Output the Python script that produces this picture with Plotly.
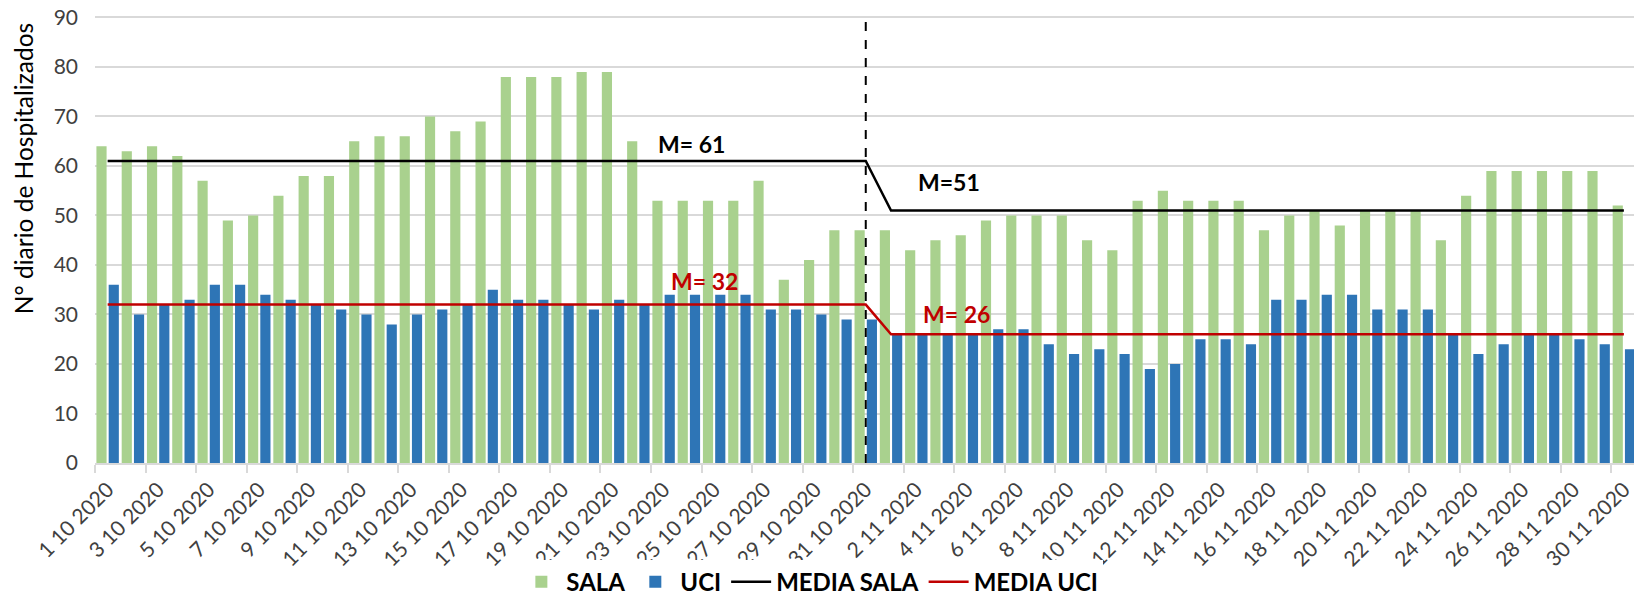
import plotly.graph_objects as go

# Días de octubre y noviembre 2020 (etiquetas del eje de categorías)
fechas = [f"{d} 10 2020" for d in range(1, 32)] + [f"{d} 11 2020" for d in range(1, 31)]

# Pacientes hospitalizados por día
sala = [64, 63, 64, 62, 57, 49, 50, 54, 58, 58, 65, 66, 66, 70, 67, 69, 78, 78, 78, 79,
        79, 65, 53, 53, 53, 53, 57, 37, 41, 47, 47,
        47, 43, 45, 46, 49, 50, 50, 50, 45, 43, 53, 55, 53, 53, 53, 47, 50, 51, 48, 51,
        51, 51, 45, 54, 59, 59, 59, 59, 59, 52]
uci = [36, 30, 32, 33, 36, 36, 34, 33, 32, 31, 30, 28, 30, 31, 32, 35, 33, 33, 32, 31,
       33, 32, 34, 34, 34, 34, 31, 31, 30, 29, 29,
       26, 26, 26, 26, 27, 27, 24, 22, 23, 22, 19, 20, 25, 25, 24, 33, 33, 34, 34, 31,
       31, 31, 26, 22, 24, 26, 26, 25, 24, 23]

# Media mensual (octubre / noviembre)
media_sala = [61, 61, 61, 61, 61, 61, 61, 61, 61, 61, 61, 61, 61, 61, 61, 61, 61, 61, 61, 61,
              61, 61, 61, 61, 61, 61, 61, 61, 61, 61, 61,
              51, 51, 51, 51, 51, 51, 51, 51, 51, 51, 51, 51, 51, 51, 51, 51, 51, 51, 51, 51,
              51, 51, 51, 51, 51, 51, 51, 51, 51, 51]
media_uci = [32, 32, 32, 32, 32, 32, 32, 32, 32, 32, 32, 32, 32, 32, 32, 32, 32, 32, 32, 32,
             32, 32, 32, 32, 32, 32, 32, 32, 32, 32, 32,
             26, 26, 26, 26, 26, 26, 26, 26, 26, 26, 26, 26, 26, 26, 26, 26, 26, 26, 26, 26,
             26, 26, 26, 26, 26, 26, 26, 26, 26, 26]

VERDE = "#A9D18E"
AZUL = "#2E75B6"
ROJO = "#C00000"
GRIS = "#404040"
FUENTE = "Lato"

fig = go.Figure()
fig.add_trace(go.Bar(x=fechas, y=sala, name="SALA", marker=dict(color=VERDE, line=dict(width=0))))
fig.add_trace(go.Bar(x=fechas, y=uci, name="UCI", marker=dict(color=AZUL, line=dict(width=0))))
fig.add_trace(go.Scatter(x=fechas, y=media_sala, name="MEDIA SALA", mode="lines",
                         line=dict(color="#000000", width=2.5)))
fig.add_trace(go.Scatter(x=fechas, y=media_uci, name="MEDIA UCI", mode="lines",
                         line=dict(color=ROJO, width=2.5)))

# Separación entre meses (31 de octubre)
fig.add_shape(type="line", xref="x", yref="y", x0=30, x1=30, y0=0, y1=90.5,
              line=dict(color="#000000", width=2, dash="dash"), layer="above")

# Etiquetas de las medias
etiquetas = [
    ("M= 61", 23.1, 64.4, "#000000"),
    ("M=51", 33.3, 56.8, "#000000"),
    ("M= 32", 23.6, 36.8, ROJO),
    ("M= 26", 33.6, 30.1, ROJO),
]
for texto, xi, yi, col in etiquetas:
    fig.add_annotation(x=xi, y=yi, xref="x", yref="y", text=texto, showarrow=False,
                       font=dict(family=FUENTE, size=23, color=col, weight="bold"))

# Título del eje vertical
fig.add_annotation(x=-0.0468, y=0.658, xref="paper", yref="paper",
                   text="N° diario de Hospitalizados", textangle=-90, showarrow=False,
                   xanchor="center", yanchor="middle",
                   font=dict(family=FUENTE, size=24.5, color="#000000"))

fig.update_layout(
    width=1634, height=600,
    margin=dict(l=95, r=0, t=15, b=137, autoexpand=False),
    paper_bgcolor="white", plot_bgcolor="white",
    barmode="group", bargap=0.03, bargroupgap=0.17,
    font=dict(family=FUENTE, color=GRIS),
    showlegend=True,
    legend=dict(orientation="h", x=0.4645, xanchor="center", y=-0.266, yanchor="middle",
                font=dict(family=FUENTE, size=24, color="#000000", weight="bold"),
                traceorder="normal", itemwidth=40),
)
fig.update_xaxes(
    type="category", range=[-0.5, 60.4], automargin=False,
    tickmode="linear", tick0=0, dtick=2, tickson="boundaries",
    tickangle=-45, tickfont=dict(family=FUENTE, size=21, color=GRIS),
    ticks="outside", ticklen=8, tickwidth=2, tickcolor="#D9D9D9",
    ticklabelstandoff=4,
    showline=True, linecolor="#D9D9D9", linewidth=2,
    showgrid=False, zeroline=False,
)
fig.update_yaxes(
    range=[0, 90.5], automargin=False, tickmode="linear", tick0=0, dtick=10,
    tickfont=dict(family=FUENTE, size=21, color=GRIS),
    showgrid=True, gridcolor="#D9D9D9", gridwidth=1.5,
    zeroline=False, showline=False, ticks="", ticklabelstandoff=16,
)

fig.write_html("out.html")
